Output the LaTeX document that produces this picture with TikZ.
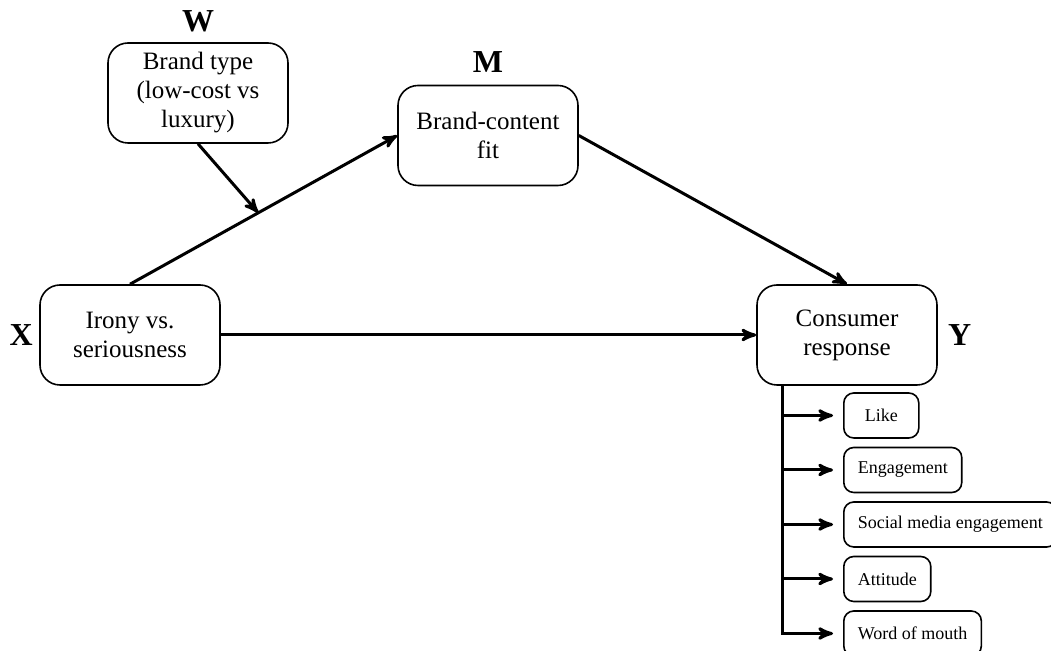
\documentclass[tikz,border=0pt]{standalone}
\usepackage{fontspec}
\setmainfont{Liberation Serif}
\usetikzlibrary{arrows,positioning}

\begin{document}
\begin{tikzpicture}[x=0.5pt,y=-0.5pt,>=stealth',var node/.style={rectangle,rounded corners=10pt,draw,line width=0.8pt,minimum width=90pt,minimum height=50pt,align=center,font=\fontsize{12.5}{14.5}\selectfont},out node/.style={rectangle,rounded corners=5pt,draw,line width=0.8pt,minimum width=37.5pt,minimum height=22.5pt,inner xsep=7pt,anchor=west,font=\fontsize{9}{11}\selectfont},letter/.style={inner sep=0pt,font=\fontsize{16}{18}\selectfont\bfseries},link/.style={->,line width=1.5pt}]

  \useasboundingbox (0,0) rectangle (1051,651);

  \node[var node] (W) at (198,93) {Brand type\\(low-cost vs\\luxury)};
  \node[var node] (M) at (488,135.5) {Brand-content\\fit};
  \node[var node] (X) at (130,335) {Irony vs.\\seriousness};
  \node[var node] (Y) at (847,335) {Consumer\\response};

  \node[letter] (W label) [above=5pt of W] {W};
  \node[letter] (M label) [above=6pt of M] {M};
  \node[letter] (X label) [left=3pt of X] {X};
  \node[letter] (Y label) [right=5pt of Y] {Y};

  \node[out node] (like) at (843,415.5) {Like};
  \node[out node] (engage) at (843,470) {Engagement};
  \node[out node] (social) at (843,524.5) {Social media engagement};
  \node[out node] (attitude) at (843,579) {Attitude};
  \node[out node] (wom) at (843,633.5) {Word of mouth};

  % paths between the variables
  \draw[link] (X.north) -- coordinate[pos=0.48] (mod) (M.west);
  \draw[link] (W.south) -- (mod);
  \draw[link] (M.east) -- (Y.north);
  \draw[link] (X.east) -- (Y.west);

  % response measures
  \coordinate (trunk) at ([xshift=13pt]Y.south west);
  \foreach \n in {like,engage,social,attitude,wom}
    \draw[link,shorten >=5pt] (trunk) |- (\n.west);
\end{tikzpicture}
\end{document}
